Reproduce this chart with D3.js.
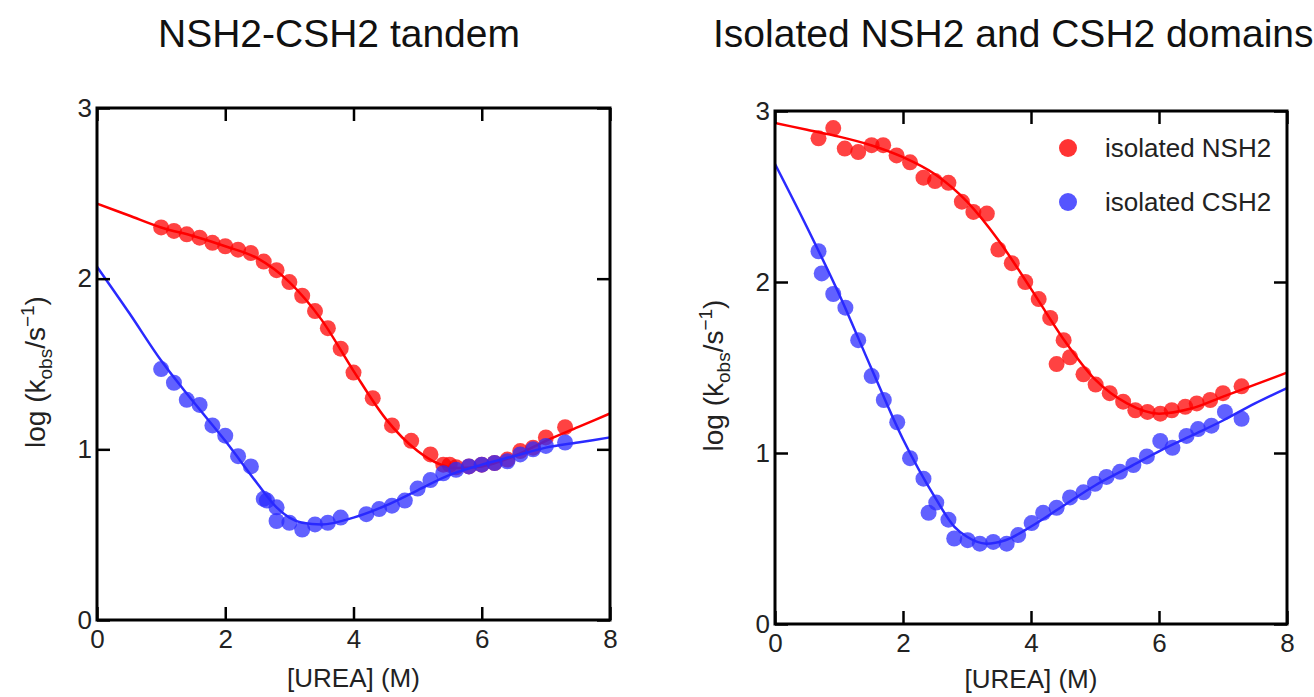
<!DOCTYPE html>
<html>
<head>
<meta charset="utf-8">
<script src="https://cdn.jsdelivr.net/npm/d3@7"></script>
<style>
  body { margin: 0; background: #fff; }
  svg { display: block; font-family: "Liberation Sans", Arial, sans-serif; }
</style>
</head>
<body>
<svg id="chart" width="1314" height="697"></svg>
<script>
// [urea M, log kobs]
const tandemNsh2 = [[1.0,2.30],[1.2,2.28],[1.4,2.26],[1.6,2.24],[1.8,2.21],[2.0,2.19],[2.2,2.17],[2.4,2.15],[2.6,2.10],[2.8,2.05],[3.0,1.98],[3.2,1.90],[3.4,1.81],[3.6,1.71],[3.8,1.59],[4.0,1.45],[4.3,1.30],[4.6,1.14],[4.9,1.05],[5.2,0.97],[5.4,0.91],[5.5,0.91],[5.6,0.895],[5.8,0.90],[6.0,0.91],[6.2,0.92],[6.4,0.94],[6.6,0.99],[6.8,1.01],[7.0,1.07],[7.3,1.13]];
const tandemNsh2Fit = [[0,2.44],[0.5,2.37],[1,2.30],[1.5,2.25],[2,2.19],[2.5,2.12],[3,1.98],[3.5,1.76],[4,1.46],[4.5,1.18],[5,0.99],[5.3,0.92],[5.6,0.89],[6,0.90],[6.5,0.96],[7,1.05],[7.5,1.13],[8,1.21]];
const tandemCsh2 = [[1.0,1.47],[1.2,1.39],[1.4,1.29],[1.6,1.26],[1.8,1.14],[2.0,1.08],[2.2,0.96],[2.4,0.90],[2.6,0.71],[2.65,0.70],[2.8,0.66],[2.8,0.58],[3.0,0.57],[3.2,0.53],[3.4,0.56],[3.6,0.57],[3.8,0.60],[4.2,0.62],[4.4,0.65],[4.6,0.67],[4.8,0.70],[5.0,0.77],[5.2,0.82],[5.4,0.86],[5.6,0.88],[5.8,0.90],[6.0,0.91],[6.2,0.92],[6.4,0.93],[6.6,0.97],[6.8,1.00],[7.0,1.02],[7.3,1.04]];
const tandemCsh2Fit = [[0,2.07],[0.5,1.80],[1,1.52],[1.5,1.28],[2,1.05],[2.5,0.80],[2.8,0.66],[3.0,0.60],[3.2,0.57],[3.5,0.56],[4,0.60],[4.5,0.67],[5,0.76],[5.5,0.85],[6,0.91],[6.5,0.96],[7,1.01],[7.5,1.04],[8,1.07]];

const isoNsh2 = [[0.68,2.84],[0.91,2.90],[1.09,2.78],[1.30,2.76],[1.51,2.80],[1.69,2.80],[1.90,2.74],[2.11,2.70],[2.32,2.61],[2.50,2.59],[2.71,2.58],[2.92,2.47],[3.10,2.41],[3.31,2.40],[3.49,2.19],[3.70,2.11],[3.91,2.00],[4.12,1.90],[4.30,1.79],[4.40,1.52],[4.51,1.66],[4.61,1.56],[4.82,1.46],[5.01,1.40],[5.23,1.35],[5.44,1.30],[5.63,1.25],[5.82,1.24],[6.02,1.23],[6.20,1.25],[6.41,1.27],[6.59,1.29],[6.80,1.31],[7.00,1.35],[7.29,1.39]];
const isoNsh2Fit = [[0,2.93],[0.5,2.89],[1,2.85],[1.5,2.80],[2,2.73],[2.5,2.63],[3,2.47],[3.5,2.24],[4,1.96],[4.5,1.67],[5,1.43],[5.5,1.29],[6,1.23],[6.5,1.26],[7,1.33],[7.5,1.40],[8,1.47]];
const isoCsh2 = [[0.68,2.18],[0.73,2.05],[0.91,1.93],[1.10,1.85],[1.30,1.66],[1.51,1.45],[1.70,1.31],[1.91,1.18],[2.11,0.97],[2.32,0.85],[2.40,0.65],[2.52,0.71],[2.71,0.61],[2.80,0.50],[3.01,0.49],[3.20,0.47],[3.41,0.48],[3.62,0.47],[3.80,0.52],[4.01,0.59],[4.19,0.65],[4.40,0.68],[4.61,0.74],[4.82,0.77],[5.00,0.82],[5.18,0.86],[5.39,0.89],[5.60,0.93],[5.81,0.98],[6.02,1.07],[6.21,1.03],[6.43,1.10],[6.61,1.14],[6.82,1.16],[7.03,1.24],[7.29,1.20]];
const isoCsh2Fit = [[0,2.69],[0.5,2.32],[1,1.93],[1.5,1.50],[2,1.08],[2.5,0.74],[2.8,0.57],[3.0,0.51],[3.3,0.47],[3.6,0.49],[4,0.57],[4.5,0.69],[5,0.81],[5.5,0.91],[6,1.01],[6.5,1.10],[7,1.19],[7.5,1.29],[8,1.38]];

const titles = ["NSH2-CSH2 tandem", "Isolated NSH2 and CSH2 domains"];
const legendLabels = ["isolated NSH2", "isolated CSH2"];
const xTicks = [0, 2, 4, 6, 8];
const yTicks = [0, 1, 2, 3];

const RED = "#ff0000", BLUE = "#2a2aff";

const svg = d3.select("#chart");

const panels = [
  { box: [97, 610, 108, 620], title: titles[0], titleX: 158,
    series: [[tandemNsh2, tandemNsh2Fit, RED], [tandemCsh2, tandemCsh2Fit, BLUE]], legend: false },
  { box: [775, 1287, 111, 624], title: titles[1], titleX: 713,
    series: [[isoNsh2, isoNsh2Fit, RED], [isoCsh2, isoCsh2Fit, BLUE]], legend: true }
];

panels.forEach(p => {
  const [x0, x1, y0, y1] = p.box;
  const x = d3.scaleLinear().domain([0, 8]).range([x0, x1]);
  const y = d3.scaleLinear().domain([0, 3]).range([y1, y0]);
  const g = svg.append("g");

  g.append("text")
      .attr("x", p.titleX).attr("y", 47)
      .style("font-size", "39px")
      .attr("fill", "#111")
      .text(p.title);

  const line = d3.line()
      .x(d => x(d[0])).y(d => y(d[1]))
      .curve(d3.curveMonotoneX);

  p.series.forEach(([pts, fit, col]) => {
    g.append("path")
        .attr("d", line(fit))
        .attr("fill", "none")
        .attr("stroke", col)
        .attr("stroke-width", 2.5);
    g.append("g").selectAll("circle")
      .data(pts)
      .join("circle")
        .attr("cx", d => x(d[0]))
        .attr("cy", d => y(d[1]))
        .attr("r", 8)
        .attr("fill", col)
        .attr("fill-opacity", 0.74);
  });

  // axes with inward ticks
  const tick = 13;
  const fmt = d3.format("d");
  const bottom = g.append("g").attr("transform", `translate(0,${y1})`)
      .call(d3.axisBottom(x).tickValues(xTicks).tickSize(-tick).tickPadding(10).tickFormat(fmt));
  const left = g.append("g").attr("transform", `translate(${x0},0)`)
      .call(d3.axisLeft(y).tickValues(yTicks).tickSize(-tick).tickPadding(5).tickFormat(fmt));
  const top = g.append("g").attr("transform", `translate(0,${y0})`)
      .call(d3.axisTop(x).tickValues(xTicks).tickSize(-tick).tickFormat(""));
  const right = g.append("g").attr("transform", `translate(${x1},0)`)
      .call(d3.axisRight(y).tickValues(yTicks).tickSize(-tick).tickFormat(""));
  [bottom, left, top, right].forEach(a => {
    a.select(".domain").remove();
    a.selectAll(".tick line").attr("stroke", "#000").attr("stroke-width", 2.5);
    a.selectAll(".tick text").attr("fill", "#222").style("font-size", "26px")
        .style("font-family", "Liberation Sans, Arial, sans-serif");
  });

  g.append("rect")
      .attr("x", x0).attr("y", y0)
      .attr("width", x1 - x0).attr("height", y1 - y0)
      .attr("fill", "none").attr("stroke", "#000").attr("stroke-width", 3);

  g.append("text")
      .attr("x", (x0 + x1) / 2).attr("y", Math.min(y1 + 67, 688))
      .attr("text-anchor", "middle")
      .style("font-size", "26px").attr("fill", "#222")
      .text("[UREA] (M)");

  const yl = g.append("text")
      .attr("transform", `translate(${x0 - 52},${(y0 + y1) / 2 + 8}) rotate(-90)`)
      .attr("text-anchor", "middle")
      .style("font-size", "28px").attr("fill", "#222");
  yl.append("tspan").text("log (k");
  yl.append("tspan").attr("dy", 7).style("font-size", "19px").text("obs");
  yl.append("tspan").attr("dy", -7).text("/s");
  yl.append("tspan").attr("dy", -11).style("font-size", "19px").text("\u22121");
  yl.append("tspan").attr("dy", 11).text(")");

  if (p.legend) {
    const lg = g.append("g").attr("transform", "translate(1068,148)");
    [[legendLabels[0], RED], [legendLabels[1], BLUE]].forEach(([lab, col], i) => {
      lg.append("circle").attr("cx", 0).attr("cy", i * 54).attr("r", 9)
          .attr("fill", col).attr("fill-opacity", 0.8);
      lg.append("text").attr("x", 37).attr("y", i * 54 + 9)
          .style("font-size", "26px").attr("fill", "#222").text(lab);
    });
  }
});
</script>
</body>
</html>
